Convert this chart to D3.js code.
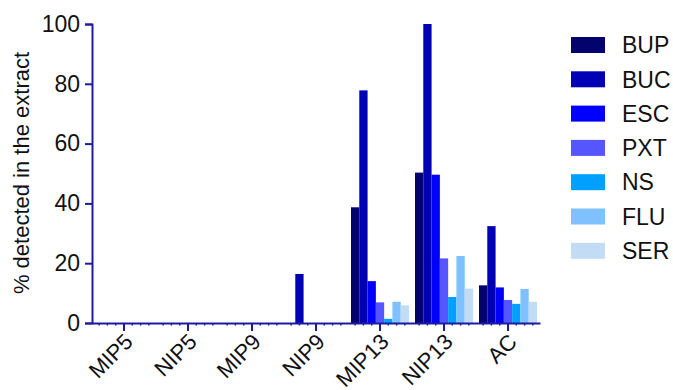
<!DOCTYPE html>
<html>
<head>
<meta charset="utf-8">
<script src="https://cdn.jsdelivr.net/npm/d3@7"></script>
<style>
  body { margin: 0; background: #fff; }
  text { font-family: "Liberation Sans", Arial, sans-serif; }
</style>
</head>
<body>
<svg id="chart"></svg>
<script>
var groups = ["MIP5", "NIP5", "MIP9", "NIP9", "MIP13", "NIP13", "AC"];
var series = ["BUP", "BUC", "ESC", "PXT", "NS", "FLU", "SER"];
var colors = ["#03036e", "#0000b4", "#0000ff", "#5656ff", "#00a0ff", "#7fc0ff", "#c2dcf5"];
var yTicks = [0, 20, 40, 60, 80, 100];

// values per series, one per group
var BUP = [0, 0, 0, 0, 38.7, 50.3, 12.6];
var BUC = [0, 0, 0, 16.4, 77.8, 100, 32.4];
var ESC = [0, 0, 0, 0, 14.0, 49.6, 11.9];
var PXT = [0, 0, 0, 0, 6.9, 21.6, 7.7];
var NS = [0, 0, 0, 0, 1.4, 8.7, 6.4];
var FLU = [0, 0, 0, 0, 7.1, 22.4, 11.4];
var SER = [0, 0, 0, 0, 5.9, 11.5, 7.1];
var values = [BUP, BUC, ESC, PXT, NS, FLU, SER];

var width = 673, height = 390;
var svg = d3.select("#chart").attr("width", width).attr("height", height);
var axisColor = "#1c1ca0";

var x0 = d3.scaleBand()
	.domain(groups)
	.range([92, 540])
	.paddingInner(0.094)
	.paddingOuter(0.047);

var x1 = d3.scaleBand()
	.domain(series)
	.range([0, x0.bandwidth()]);

var y = d3.scaleLinear().domain([0, 100]).range([323, 24]);

var data = [];
groups.forEach(function (g, gi) {
	series.forEach(function (s, si) {
		data.push({ group: g, name: s, value: values[si][gi], color: colors[si] });
	});
});

// bars
svg.append("g")
	.selectAll("rect")
	.data(data)
	.enter()
	.append("rect")
	.attr("x", d => x0(d.group) + x1(d.name))
	.attr("y", d => y(d.value))
	.attr("width", x1.bandwidth())
	.attr("height", d => y(0) - y(d.value))
	.attr("fill", d => d.color);

// minor ticks on x axis, one per bar
svg.append("g")
	.selectAll("line")
	.data(data)
	.enter()
	.append("line")
	.attr("x1", d => x0(d.group) + x1(d.name) + x1.bandwidth() / 2)
	.attr("x2", d => x0(d.group) + x1(d.name) + x1.bandwidth() / 2)
	.attr("y1", y(0))
	.attr("y2", y(0) + 2.5)
	.attr("stroke", axisColor)
	.attr("stroke-width", 1.5);

// y axis
var yAxis = svg.append("g")
	.attr("transform", "translate(92,0)")
	.call(d3.axisLeft(y).tickValues(yTicks).tickSize(7).tickPadding(5));
yAxis.select(".domain").attr("stroke", axisColor).attr("stroke-width", 2);
yAxis.selectAll(".tick line").attr("stroke", axisColor).attr("stroke-width", 2);
yAxis.selectAll(".tick text")
	.attr("font-size", "23px")
	.attr("fill", "#111")
	.attr("font-family", "Liberation Sans, Arial, sans-serif");

// x axis
var xAxis = svg.append("g")
	.attr("transform", "translate(0," + y(0) + ")")
	.call(d3.axisBottom(x0).tickSize(8).tickSizeOuter(0));
xAxis.select(".domain").attr("stroke", axisColor).attr("stroke-width", 2);
xAxis.selectAll(".tick line").attr("stroke", axisColor).attr("stroke-width", 2);
xAxis.selectAll(".tick text")
	.attr("font-size", "22px")
	.attr("fill", "#111")
	.attr("font-family", "Liberation Sans, Arial, sans-serif")
	.attr("text-anchor", "end")
	.attr("x", 0)
	.attr("y", 0)
	.attr("dy", "0.72em")
	.attr("transform", "translate(-1,9) rotate(-45)");

// y title
svg.append("text")
	.attr("transform", "translate(29,173) rotate(-90)")
	.attr("text-anchor", "middle")
	.attr("font-size", "22px")
	.attr("fill", "#111")
	.text("% detected in the extract");

// legend
var legend = svg.append("g")
	.selectAll("g")
	.data(series)
	.enter()
	.append("g")
	.attr("transform", function (d, i) { return "translate(571," + (37 + i * 34.3) + ")"; });

legend.append("rect")
	.attr("width", 34)
	.attr("height", 16)
	.attr("fill", (d, i) => colors[i]);

legend.append("text")
	.attr("x", 51)
	.attr("y", 8)
	.attr("dy", "0.36em")
	.attr("font-size", "23px")
	.attr("fill", "#111")
	.text(d => d);
</script>
</body>
</html>
